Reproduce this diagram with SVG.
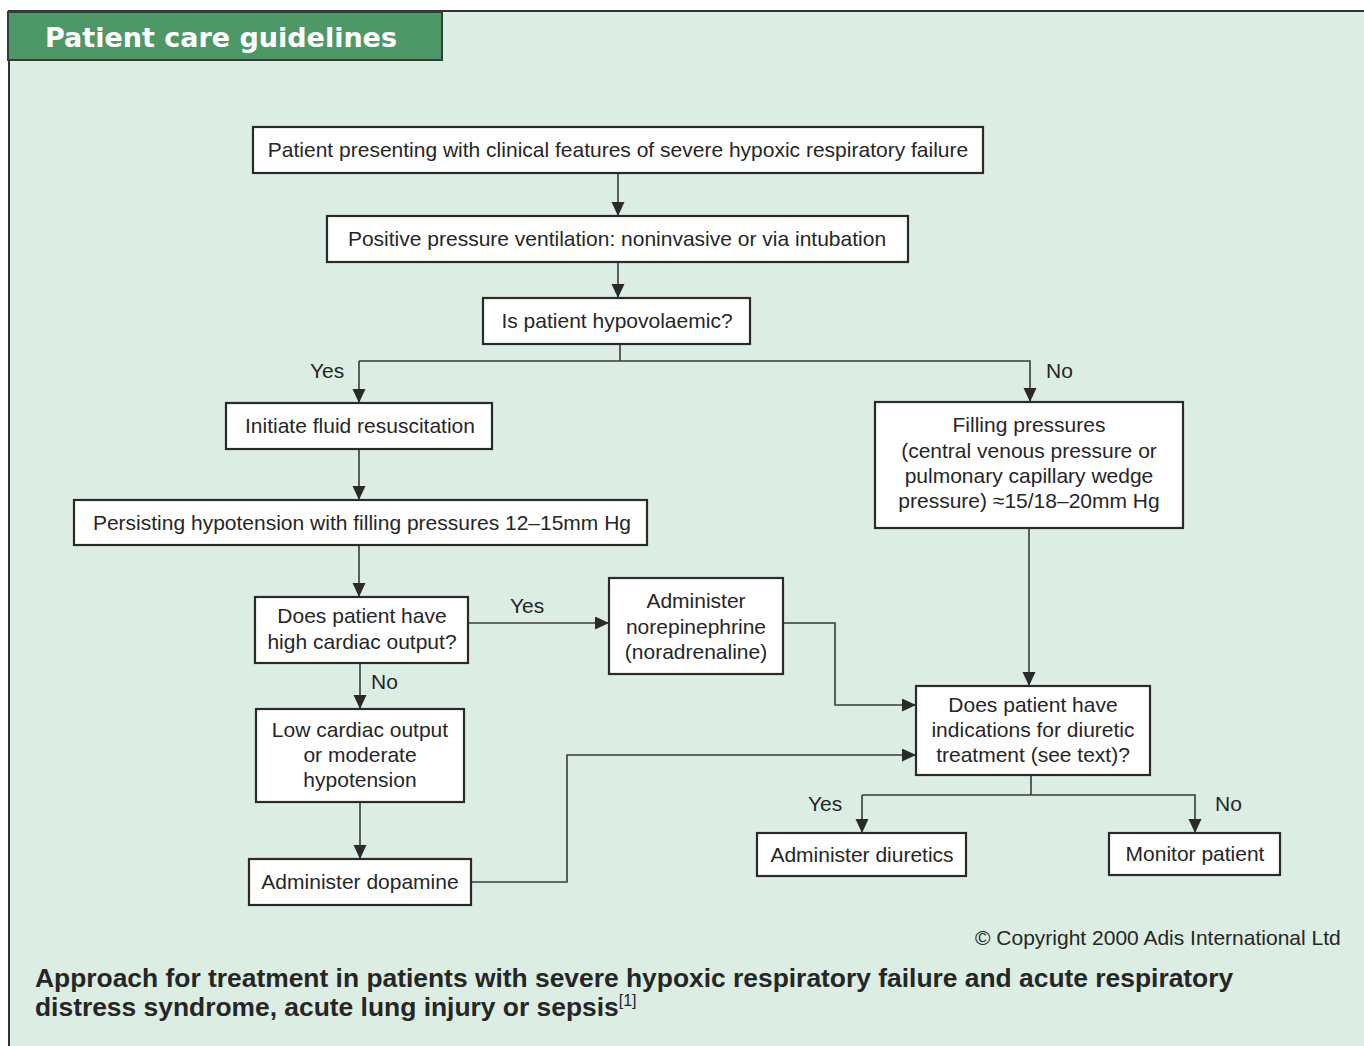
<svg xmlns="http://www.w3.org/2000/svg" width="1364" height="1046" viewBox="0 0 1364 1046">
<defs>
<marker id="ah" markerUnits="userSpaceOnUse" markerWidth="15" markerHeight="14" refX="14" refY="6.5" orient="auto">
<path d="M0,0 L14,6.5 L0,13 z" fill="#2a2a2a"/>
</marker>
<style>
.box{fill:#ffffff;stroke:#2a2a2a;stroke-width:2.2}
.t{font-family:"Liberation Sans",Arial,sans-serif;font-size:21px;fill:#262626;text-anchor:middle}
.lbl{font-family:"Liberation Sans",Arial,sans-serif;font-size:21px;fill:#262626}
.c{fill:none;stroke:#3a3a3a;stroke-width:1.6}
.ca{fill:none;stroke:#3a3a3a;stroke-width:1.6;marker-end:url(#ah)}
</style>
</defs>
<rect x="0" y="0" width="1364" height="1046" fill="#ffffff"/>
<rect x="9" y="11" width="1355" height="1035" fill="#dcede3"/>
<g id="frame">
<line x1="8" y1="11" x2="1364" y2="11" stroke="#333" stroke-width="2"/>
<line x1="9" y1="10" x2="9" y2="1046" stroke="#333" stroke-width="2"/>
</g>
<g id="header">
<rect x="8" y="12" width="434" height="48" fill="#4e9868" stroke="#2f3f33" stroke-width="2"/>
<text x="45" y="47" font-family="'DejaVu Sans',sans-serif" font-weight="bold" font-size="27" fill="#ffffff" textLength="352" lengthAdjust="spacingAndGlyphs">Patient care guidelines</text>
</g>
<g id="connectors">
<path class="ca" d="M618,173 V216"/>
<path class="ca" d="M618,262 V298"/>
<path class="c" d="M620,344 V361"/>
<path class="ca" d="M359,361 H1030 V402"/>
<path class="ca" d="M359,361 V403"/>
<path class="ca" d="M359,449 V500"/>
<path class="ca" d="M359,545 V597"/>
<path class="ca" d="M468,623 H609"/>
<path class="ca" d="M360,663 V709"/>
<path class="ca" d="M360,802 V859"/>
<path class="ca" d="M783,623 H835 V705 H916"/>
<path class="ca" d="M471,882 H567 V755 H916"/>
<path class="ca" d="M1029,528 V686"/>
<path class="c" d="M1031,775 V795"/>
<path class="ca" d="M862,795 H1195 V833"/>
<path class="ca" d="M862,795 V833"/>
<text class="lbl" x="310" y="378">Yes</text>
<text class="lbl" x="1046" y="378">No</text>
<text class="lbl" x="510" y="613">Yes</text>
<text class="lbl" x="371" y="689">No</text>
<text class="lbl" x="808" y="811">Yes</text>
<text class="lbl" x="1215" y="811">No</text>
</g>
<g id="n1">
<rect class="box" x="253" y="127" width="730" height="46"/>
<text class="t" x="618" y="157">Patient presenting with clinical features of severe hypoxic respiratory failure</text>
</g>
<g id="n2">
<rect class="box" x="327" y="216" width="581" height="46"/>
<text class="t" x="617" y="246">Positive pressure ventilation: noninvasive or via intubation</text>
</g>
<g id="n3">
<rect class="box" x="483" y="298" width="267" height="46"/>
<text class="t" x="617" y="328">Is patient hypovolaemic?</text>
</g>
<g id="n4">
<rect class="box" x="226" y="403" width="266" height="46"/>
<text class="t" x="360" y="433">Initiate fluid resuscitation</text>
</g>
<g id="n5">
<rect class="box" x="875" y="402" width="308" height="126"/>
<text class="t" x="1029" y="432">Filling pressures</text>
<text class="t" x="1029" y="458">(central venous pressure or</text>
<text class="t" x="1029" y="483">pulmonary capillary wedge</text>
<text class="t" x="1029" y="508">pressure) ≈15/18–20mm Hg</text>
</g>
<g id="n6">
<rect class="box" x="74" y="500" width="573" height="45"/>
<text class="t" x="362" y="530">Persisting hypotension with filling pressures 12–15mm Hg</text>
</g>
<g id="n7">
<rect class="box" x="255" y="597" width="213" height="66"/>
<text class="t" x="362" y="623">Does patient have</text>
<text class="t" x="362" y="649">high cardiac output?</text>
</g>
<g id="n8">
<rect class="box" x="609" y="578" width="174" height="96"/>
<text class="t" x="696" y="608">Administer</text>
<text class="t" x="696" y="634">norepinephrine</text>
<text class="t" x="696" y="659">(noradrenaline)</text>
</g>
<g id="n9">
<rect class="box" x="256" y="709" width="208" height="93"/>
<text class="t" x="360" y="737">Low cardiac output</text>
<text class="t" x="360" y="762">or moderate</text>
<text class="t" x="360" y="787">hypotension</text>
</g>
<g id="n10">
<rect class="box" x="249" y="859" width="222" height="46"/>
<text class="t" x="360" y="889">Administer dopamine</text>
</g>
<g id="n11">
<rect class="box" x="916" y="686" width="234" height="89"/>
<text class="t" x="1033" y="712">Does patient have</text>
<text class="t" x="1033" y="737">indications for diuretic</text>
<text class="t" x="1033" y="762">treatment (see text)?</text>
</g>
<g id="n12">
<rect class="box" x="757" y="833" width="209" height="43"/>
<text class="t" x="862" y="862">Administer diuretics</text>
</g>
<g id="n13">
<rect class="box" x="1109" y="833" width="171" height="42"/>
<text class="t" x="1195" y="861">Monitor patient</text>
</g>
<g id="caption">
<text x="975" y="945" font-family="'Liberation Sans',Arial,sans-serif" font-size="21" fill="#262626">© Copyright 2000 Adis International Ltd</text>
<text x="35" y="987" font-family="'Liberation Sans',Arial,sans-serif" font-weight="bold" font-size="26.4" fill="#262626">Approach for treatment in patients with severe hypoxic respiratory failure and acute respiratory</text>
<text x="35" y="1016" font-family="'Liberation Sans',Arial,sans-serif" font-weight="bold" font-size="26.4" fill="#262626">distress syndrome, acute lung injury or sepsis<tspan font-size="16" font-weight="normal" dy="-10">[1]</tspan></text>
</g>
</svg>
